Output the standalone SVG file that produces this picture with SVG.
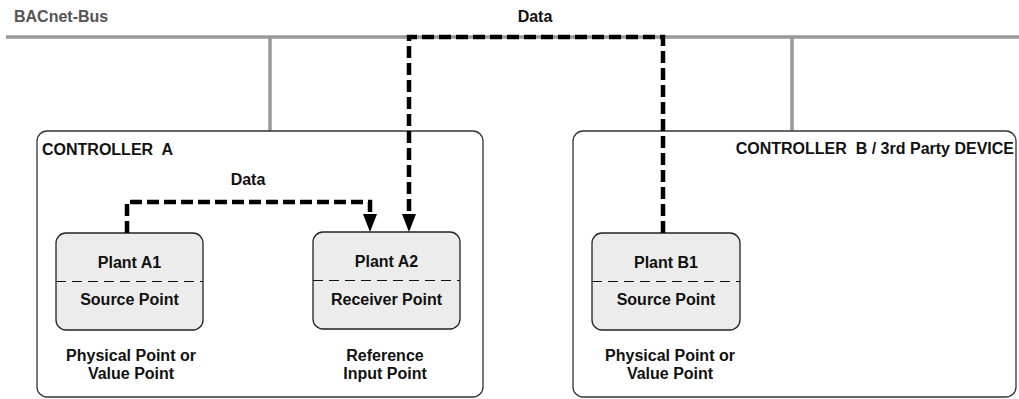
<svg xmlns="http://www.w3.org/2000/svg" width="1019" height="399" viewBox="0 0 1019 399">
<style>
text{font-family:"Liberation Sans",Arial,sans-serif;font-weight:bold;font-size:16px;fill:#111}
.mid{text-anchor:middle}
.bus{stroke:#999;stroke-width:3.5;fill:none}
.ctrl{fill:#fff;stroke:#333;stroke-width:1.3}
.plant{fill:#ececec;stroke:#222;stroke-width:1.3}
.div{stroke:#111;stroke-width:1;stroke-dasharray:10 6;fill:none}
.data{stroke:#000;stroke-width:4.5;stroke-dasharray:12 5;fill:none}
.arrow{fill:#000}
</style>
<g id="bus">
<line class="bus" x1="6" y1="37" x2="1019" y2="37"/>
<line class="bus" x1="270" y1="37" x2="270" y2="131"/>
<line class="bus" x1="792" y1="37" x2="792" y2="131"/>
<text x="14" y="22" style="fill:#555">BACnet-Bus</text>
</g>
<g id="controllerA">
<rect class="ctrl" x="37" y="131" width="446" height="266" rx="10"/>
<text x="42" y="155" xml:space="preserve">CONTROLLER  A</text>
</g>
<g id="controllerB">
<rect class="ctrl" x="573" y="131" width="443" height="266" rx="10"/>
<text x="1014" y="154" text-anchor="end" xml:space="preserve">CONTROLLER  B / 3rd Party DEVICE</text>
</g>
<g id="plantA1">
<rect class="plant" x="56" y="233" width="147" height="97" rx="10"/>
<line class="div" x1="56" y1="281.5" x2="203" y2="281.5"/>
<text x="129.5" y="268" class="mid">Plant A1</text>
<text x="129.5" y="305" class="mid">Source Point</text>
<text x="131" y="361" class="mid">Physical Point or</text>
<text x="131" y="379" class="mid">Value Point</text>
</g>
<g id="plantA2">
<rect class="plant" x="313" y="232" width="147" height="97" rx="10"/>
<line class="div" x1="313" y1="280.5" x2="460" y2="280.5"/>
<text x="386.5" y="267" class="mid">Plant A2</text>
<text x="386.5" y="305" class="mid">Receiver Point</text>
<text x="385" y="361" class="mid">Reference</text>
<text x="385" y="379" class="mid">Input Point</text>
</g>
<g id="plantB1">
<rect class="plant" x="592" y="233" width="148" height="97" rx="10"/>
<line class="div" x1="592" y1="281.5" x2="740" y2="281.5"/>
<text x="666" y="268" class="mid">Plant B1</text>
<text x="666" y="305" class="mid">Source Point</text>
<text x="670" y="361" class="mid">Physical Point or</text>
<text x="670" y="379" class="mid">Value Point</text>
</g>
<g id="connectors">
<path class="data" d="M127,233 V202 H370 V216"/>
<polygon class="arrow" points="363,214 377,214 370,232"/>
<path class="data" d="M663,233 V37 H409 V216"/>
<polygon class="arrow" points="402,214 416,214 409,232"/>
<text x="248" y="185" class="mid">Data</text>
<text x="535" y="22" class="mid">Data</text>
</g>
</svg>
